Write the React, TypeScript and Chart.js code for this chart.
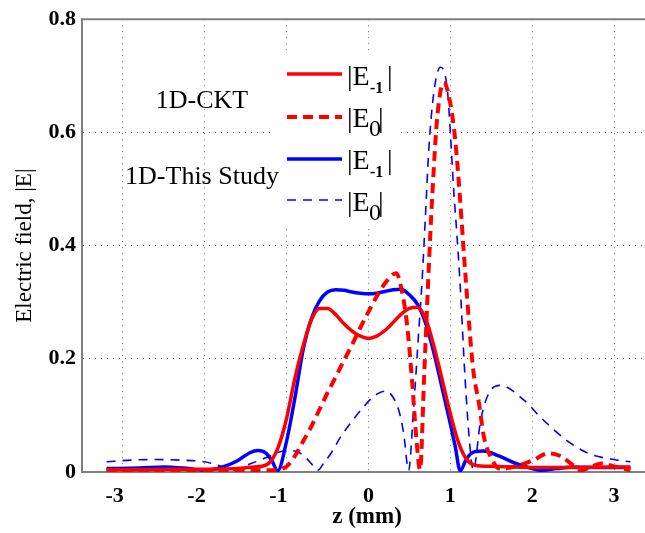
import React, { useEffect, useRef } from "react";
import { Chart, registerables } from "chart.js";

Chart.register(...registerables);

// ---- data ----
const X_TICKS = [-3, -2, -1, 0, 1, 2, 3];
const Y_TITLE = "Electric field, |E|";
const X_TITLE = "z (mm)";
const GROUP_LABELS = ["1D-CKT", "1D-This Study"];

// 1D-CKT |E-1|
const Z_CKT_M1 = [-3.2, -2.8, -2.4, -2.0, -1.6, -1.4, -1.3, -1.2, -1.1, -1.0, -0.9, -0.8, -0.7, -0.6, -0.5, -0.4, -0.3, -0.2, -0.1, 0, 0.1, 0.2, 0.3, 0.4, 0.5, 0.6, 0.7, 0.8, 0.9, 1.0, 1.1, 1.2, 1.3, 1.5, 2.0, 2.5, 3.0, 3.2];
const E_CKT_M1 = [0.004, 0.004, 0.005, 0.005, 0.006, 0.009, 0.01, 0.018, 0.045, 0.095, 0.165, 0.222, 0.268, 0.289, 0.289, 0.278, 0.262, 0.249, 0.24, 0.236, 0.24, 0.25, 0.264, 0.279, 0.289, 0.291, 0.27, 0.222, 0.163, 0.103, 0.052, 0.022, 0.012, 0.01, 0.008, 0.008, 0.009, 0.009];

// 1D-CKT |E0|
const Z_CKT_0 = [-3.2, -2.8, -2.4, -2.0, -1.6, -1.2, -1.0, -0.9, -0.8, -0.7, -0.6, -0.5, -0.4, -0.3, -0.2, -0.1, 0, 0.1, 0.2, 0.3, 0.34, 0.4, 0.47, 0.53, 0.59, 0.63, 0.68, 0.73, 0.78, 0.84, 0.92, 1.0, 1.06, 1.12, 1.18, 1.28, 1.35, 1.41, 1.5, 1.6, 1.8, 2.0, 2.2, 2.35, 2.5, 2.6, 2.7, 2.85, 3.0, 3.2];
const E_CKT_0 = [0.003, 0.002, 0.003, 0.002, 0.003, 0.003, 0.01, 0.028, 0.054, 0.08, 0.11, 0.14, 0.168, 0.197, 0.225, 0.255, 0.283, 0.31, 0.333, 0.349, 0.351, 0.325, 0.262, 0.165, 0.05, 0.004, 0.17, 0.34, 0.49, 0.627, 0.688, 0.651, 0.586, 0.48, 0.356, 0.18, 0.121, 0.062, 0.025, 0.006, 0.01, 0.02, 0.033, 0.028, 0.012, 0.003, 0.008, 0.015, 0.01, 0.003];

// 1D-This Study |E-1|
const Z_THIS_M1 = [-3.2, -2.8, -2.5, -2.2, -2.0, -1.8, -1.6, -1.45, -1.35, -1.25, -1.18, -1.11, -1.0, -0.9, -0.8, -0.7, -0.6, -0.5, -0.4, -0.3, -0.2, -0.1, 0, 0.1, 0.2, 0.3, 0.4, 0.5, 0.6, 0.7, 0.8, 0.9, 1.0, 1.06, 1.12, 1.2, 1.3, 1.4, 1.6, 1.8, 2.0, 2.1, 2.3, 2.5, 2.8, 3.2];
const E_THIS_M1 = [0.006, 0.007, 0.009, 0.006, 0.003, 0.008, 0.02, 0.034, 0.038, 0.033, 0.02, 0.002, 0.055, 0.13, 0.215, 0.27, 0.302, 0.318, 0.322, 0.321, 0.318, 0.316, 0.315, 0.316, 0.319, 0.322, 0.323, 0.313, 0.296, 0.262, 0.21, 0.148, 0.085, 0.045, 0.002, 0.024, 0.036, 0.037, 0.028, 0.015, 0.006, 0.003, 0.006, 0.009, 0.008, 0.008];

// 1D-This Study |E0|
const Z_THIS_0 = [-3.2, -2.9, -2.6, -2.3, -2.0, -1.8, -1.64, -1.45, -1.24, -1.1, -1.0, -0.9, -0.8, -0.7, -0.62, -0.55, -0.45, -0.34, -0.2, -0.06, 0.05, 0.15, 0.22, 0.3, 0.37, 0.43, 0.49, 0.55, 0.61, 0.655, 0.695, 0.736, 0.797, 0.878, 0.96, 1.0, 1.04, 1.08, 1.12, 1.18, 1.24, 1.28, 1.37, 1.47, 1.61, 1.9, 2.1, 2.42, 2.7, 3.0, 3.2];
const E_THIS_0 = [0.018, 0.021, 0.022, 0.021, 0.018, 0.01, 0.003, 0.014, 0.026, 0.035, 0.038, 0.037, 0.03, 0.015, 0.003, 0.015, 0.035, 0.062, 0.09, 0.115, 0.132, 0.141, 0.143, 0.132, 0.109, 0.068, 0.003, 0.11, 0.24, 0.339, 0.45, 0.568, 0.669, 0.715, 0.68, 0.6, 0.5, 0.42, 0.33, 0.165, 0.044, 0.003, 0.091, 0.139, 0.153, 0.127, 0.097, 0.056, 0.032, 0.022, 0.018];

const SERIES = [
  { z: Z_CKT_M1, e: E_CKT_M1, color: "#ff0000", width: 3.5, dash: [] as number[], sub: "-1" },
  { z: Z_CKT_0, e: E_CKT_0, color: "#ff0000", width: 4, dash: [10, 6], sub: "0" },
  { z: Z_THIS_M1, e: E_THIS_M1, color: "#0000ff", width: 3.5, dash: [] as number[], sub: "-1" },
  { z: Z_THIS_0, e: E_THIS_0, color: "#0000ff", width: 1.6, dash: [9, 7], sub: "0" },
];

const SERIF = '"Liberation Serif", "Times New Roman", serif';

const decoPlugin = {
  id: "deco",
  beforeDatasetsDraw(chart: any) {
    const ctx = chart.ctx;
    ctx.save();
    ctx.fillStyle = "#ffffff";
    ctx.fillRect(273, 52, 125, 176);
    ctx.restore();
  },
  afterDraw(chart: any) {
    const ctx = chart.ctx;
    const { left, right, top, bottom } = chart.chartArea;
    ctx.save();
    // top frame line
    ctx.strokeStyle = "#808080";
    ctx.lineWidth = 2;
    ctx.beginPath();
    ctx.moveTo(left, top);
    ctx.lineTo(right, top);
    ctx.stroke();

    ctx.fillStyle = "#000000";
    // y title
    ctx.save();
    ctx.font = `23px ${SERIF}`;
    ctx.textAlign = "center";
    ctx.textBaseline = "middle";
    ctx.translate(25, (top + bottom) / 2);
    ctx.rotate(-Math.PI / 2);
    ctx.fillText(Y_TITLE, 0, 0);
    ctx.restore();

    // x title
    ctx.font = `bold 23px ${SERIF}`;
    ctx.textAlign = "center";
    ctx.textBaseline = "middle";
    ctx.fillText(X_TITLE, 367, 517);

    // group labels
    ctx.font = `26px ${SERIF}`;
    ctx.textBaseline = "alphabetic";
    ctx.fillText(GROUP_LABELS[0], 202, 108);
    ctx.fillText(GROUP_LABELS[1], 202, 184);

    // legend lines & labels
    const lineY = [74, 117, 159, 200];
    const baseY = [85, 127, 169, 211];
    SERIES.forEach((s, i) => {
      ctx.save();
      ctx.strokeStyle = s.color;
      ctx.lineWidth = s.width;
      ctx.setLineDash(s.dash);
      ctx.beginPath();
      ctx.moveTo(287, lineY[i]);
      ctx.lineTo(342, lineY[i]);
      ctx.stroke();
      ctx.restore();

      ctx.textAlign = "left";
      ctx.textBaseline = "alphabetic";
      ctx.font = `28px ${SERIF}`;
      ctx.fillText("|E", 347, baseY[i]);
      if (s.sub === "-1") {
        ctx.font = `bold 16px ${SERIF}`;
        ctx.fillText(s.sub, 370, baseY[i] + 8);
        ctx.font = `28px ${SERIF}`;
        ctx.fillText("|", 387, baseY[i]);
      } else {
        ctx.font = `24px ${SERIF}`;
        ctx.fillText(s.sub, 369, baseY[i] + 9);
        ctx.font = `28px ${SERIF}`;
        ctx.fillText("|", 378, baseY[i]);
      }
    });
    ctx.restore();
  },
};

export default function App() {
  const ref = useRef<HTMLCanvasElement | null>(null);
  useEffect(() => {
    if (!ref.current) return;
    const chart = new Chart(ref.current, {
      type: "line",
      data: {
        datasets: SERIES.map((s) => ({
          data: s.z.map((x, i) => ({ x, y: s.e[i] })),
          borderColor: s.color,
          borderWidth: s.width,
          borderDash: s.dash,
          pointRadius: 0,
          fill: false,
          cubicInterpolationMode: "monotone" as const,
        })),
      },
      options: {
        animation: false,
        responsive: false,
        devicePixelRatio: 1,
        layout: { padding: { top: 19, right: 0, left: 0, bottom: 0 } },
        plugins: { legend: { display: false }, tooltip: { enabled: false } },
        scales: {
          x: {
            type: "linear",
            min: -3.5,
            max: 3.378,
            afterBuildTicks: (scale: any) => {
              scale.ticks = X_TICKS.map((v) => ({ value: v }));
            },
            afterFit: (scale: any) => {
              scale.height = 61;
            },
            grid: { color: "#6e6e6e", lineWidth: 1, drawTicks: false },
            border: { color: "#808080", width: 2, dash: [1, 5] },
            ticks: {
              padding: 11,
              color: "#000",
              font: { family: SERIF, size: 22, weight: "bold" },
              callback: (v: any) => (Number(v) < 0 ? `${v}   ` : `${v}`),
            },
          },
          y: {
            min: 0,
            max: 0.8,
            afterFit: (scale: any) => {
              scale.width = 82;
            },
            grid: { color: "#6e6e6e", lineWidth: 1, drawTicks: false },
            border: { color: "#808080", width: 2, dash: [1, 5] },
            ticks: {
              stepSize: 0.2,
              padding: 6,
              color: "#000",
              font: { family: SERIF, size: 22, weight: "bold" },
            },
          },
        },
      },
      plugins: [decoPlugin],
    } as any);
    return () => chart.destroy();
  }, []);
  return (
    <div style={{ position: "absolute", left: 0, top: 0, width: 645, height: 533, background: "#fff" }}>
      <canvas ref={ref} width={645} height={533} style={{ display: "block" }} />
    </div>
  );
}
